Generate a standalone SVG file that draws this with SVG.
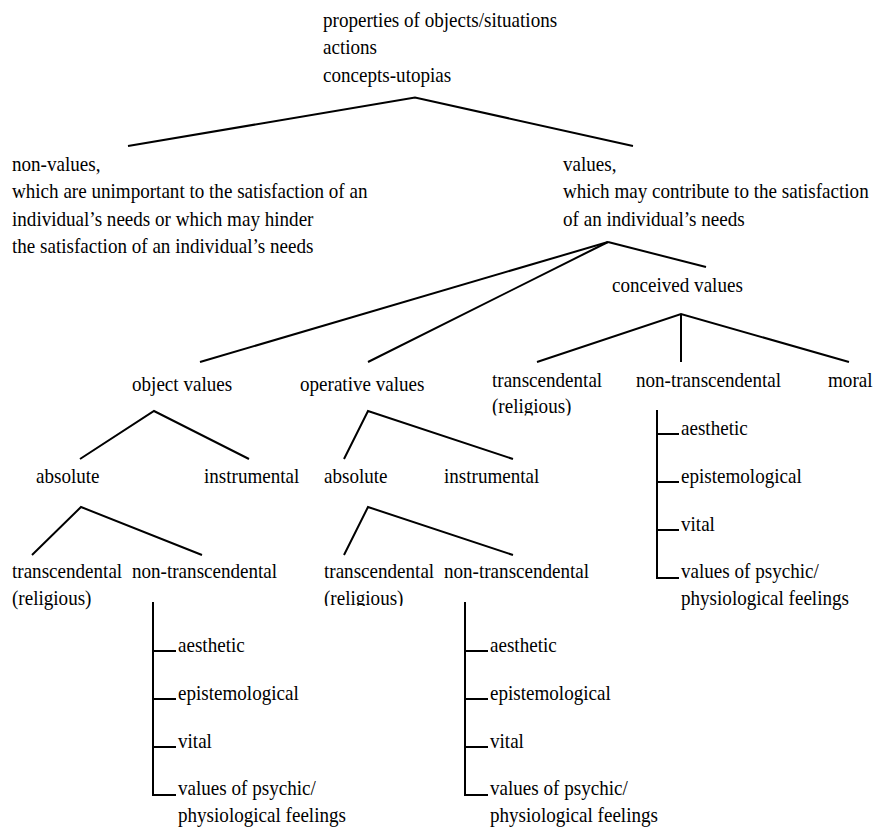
<svg xmlns="http://www.w3.org/2000/svg" width="873" height="828" viewBox="0 0 873 828">
<style>
  text { font-family: 'Liberation Serif', 'Times New Roman', Times, 'DejaVu Serif', serif; font-size: 22px; fill: #000; }
  .c line, .c polyline { stroke: #000; stroke-width: 2; fill: none; stroke-linecap: butt; stroke-linejoin: miter; }
</style>
<defs>
  <clipPath id="clipRelA"><rect x="0" y="0" width="873" height="606"/></clipPath>
  <clipPath id="clipRelB"><rect x="0" y="0" width="873" height="415.5"/></clipPath>
</defs>
<rect width="873" height="828" fill="#fff"/>

<g id="connectors" class="c">
  <polyline points="128,146 415,97.5 633,146"/>
  <line x1="608" y1="242" x2="200" y2="362"/>
  <line x1="608" y1="242" x2="368" y2="362"/>
  <line x1="608" y1="242" x2="706" y2="267"/>
  <polyline points="537,362 681,314 849,362"/>
  <line x1="681" y1="314" x2="681" y2="362"/>
  <polyline points="80,459 154,411 249,459"/>
  <polyline points="344,459 368,411 513,459"/>
  <polyline points="32,555 81,507 202,555"/>
  <polyline points="344,555 368,507 513,555"/>
  <polyline points="657,410 657,578 679,578"/>
  <line x1="657" y1="434" x2="679" y2="434"/>
  <line x1="657" y1="482" x2="679" y2="482"/>
  <line x1="657" y1="530" x2="679" y2="530"/>
  <polyline points="153,602 153,795 176,795"/>
  <line x1="153" y1="651" x2="176" y2="651"/>
  <line x1="153" y1="699" x2="176" y2="699"/>
  <line x1="153" y1="747" x2="176" y2="747"/>
  <polyline points="465,602 465,795 488,795"/>
  <line x1="465" y1="651" x2="488" y2="651"/>
  <line x1="465" y1="699" x2="488" y2="699"/>
  <line x1="465" y1="747" x2="488" y2="747"/>
</g>

<g id="n-root"><text transform="translate(323,27) scale(0.868,1)"><tspan x="0" y="0">properties of objects/situations</tspan><tspan x="0" y="27.5">actions</tspan><tspan x="0" y="55">concepts-utopias</tspan></text></g>

<g id="n-nonvalues"><text transform="translate(12,171) scale(0.868,1)"><tspan x="0" y="0">non-values,</tspan><tspan x="0" y="27.3">which are unimportant to the satisfaction of an</tspan><tspan x="0" y="54.6">individual’s needs or which may hinder</tspan><tspan x="0" y="81.9">the satisfaction of an individual’s needs</tspan></text></g>

<g id="n-values"><text transform="translate(563,171) scale(0.868,1)"><tspan x="0" y="0">values,</tspan><tspan x="0" y="27.3">which may contribute to the satisfaction</tspan><tspan x="0" y="54.6">of an individual’s needs</tspan></text></g>

<g id="n-conceived"><text transform="translate(612,292) scale(0.868,1)">conceived values</text></g>
<g id="n-object"><text transform="translate(132,391) scale(0.868,1)">object values</text></g>
<g id="n-operative"><text transform="translate(300,391) scale(0.868,1)">operative values</text></g>

<g id="n-c-trans" clip-path="url(#clipRelB)"><text transform="translate(492,387) scale(0.868,1)"><tspan x="0" y="0">transcendental</tspan><tspan x="0" y="26.5">(religious)</tspan></text></g>
<g id="n-c-nontrans"><text transform="translate(636,387) scale(0.868,1)">non-transcendental</text></g>
<g id="n-moral"><text transform="translate(828,387) scale(0.868,1)">moral</text></g>

<g id="n-c-aesthetic"><text transform="translate(681,435) scale(0.868,1)">aesthetic</text></g>
<g id="n-c-epist"><text transform="translate(681,483) scale(0.868,1)">epistemological</text></g>
<g id="n-c-vital"><text transform="translate(681,531) scale(0.868,1)">vital</text></g>
<g id="n-c-psychic"><text transform="translate(681,578) scale(0.868,1)"><tspan x="0" y="0">values of psychic/</tspan><tspan x="0" y="27.3">physiological feelings</tspan></text></g>

<g id="n-o-abs"><text transform="translate(36,483) scale(0.868,1)">absolute</text></g>
<g id="n-o-instr"><text transform="translate(204,483) scale(0.868,1)">instrumental</text></g>
<g id="n-p-abs"><text transform="translate(324,483) scale(0.868,1)">absolute</text></g>
<g id="n-p-instr"><text transform="translate(444,483) scale(0.868,1)">instrumental</text></g>

<g id="n-o-trans"><text transform="translate(12,578) scale(0.868,1)"><tspan x="0" y="0">transcendental</tspan><tspan x="0" y="27">(religious)</tspan></text></g>
<g id="n-o-nontrans"><text transform="translate(132,578) scale(0.868,1)">non-transcendental</text></g>
<g id="n-p-trans" clip-path="url(#clipRelA)"><text transform="translate(324,578) scale(0.868,1)"><tspan x="0" y="0">transcendental</tspan><tspan x="0" y="27">(religious)</tspan></text></g>
<g id="n-p-nontrans"><text transform="translate(444,578) scale(0.868,1)">non-transcendental</text></g>

<g id="n-o-aesthetic"><text transform="translate(178,652) scale(0.868,1)">aesthetic</text></g>
<g id="n-o-epist"><text transform="translate(178,700) scale(0.868,1)">epistemological</text></g>
<g id="n-o-vital"><text transform="translate(178,748) scale(0.868,1)">vital</text></g>
<g id="n-o-psychic"><text transform="translate(178,795) scale(0.868,1)"><tspan x="0" y="0">values of psychic/</tspan><tspan x="0" y="27">physiological feelings</tspan></text></g>

<g id="n-p-aesthetic"><text transform="translate(490,652) scale(0.868,1)">aesthetic</text></g>
<g id="n-p-epist"><text transform="translate(490,700) scale(0.868,1)">epistemological</text></g>
<g id="n-p-vital"><text transform="translate(490,748) scale(0.868,1)">vital</text></g>
<g id="n-p-psychic"><text transform="translate(490,795) scale(0.868,1)"><tspan x="0" y="0">values of psychic/</tspan><tspan x="0" y="27">physiological feelings</tspan></text></g>
</svg>
